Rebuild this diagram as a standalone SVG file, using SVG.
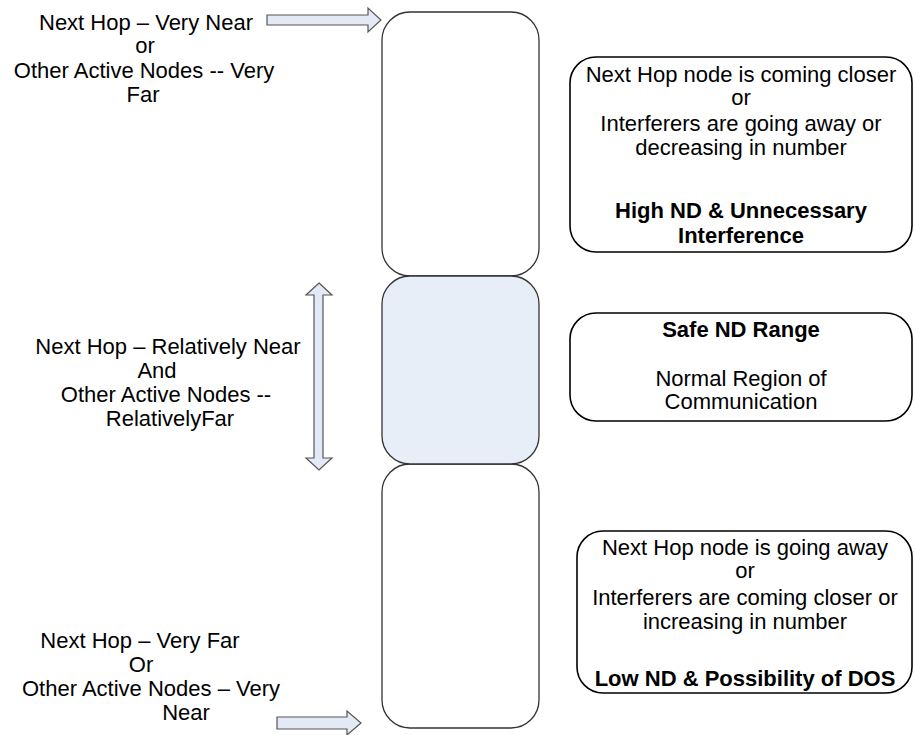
<svg xmlns="http://www.w3.org/2000/svg" width="915" height="735" viewBox="0 0 915 735">
  <defs>
    <style>
      text { font-family: "Liberation Sans", Arial, sans-serif; font-size: 22px; fill: #000; }
      .c { text-anchor: middle; }
      .b { font-weight: bold; }
      .col { fill: #fff; stroke: #333; stroke-width: 1.3; }
      .colmid { fill: #e8eef8; stroke: #333; stroke-width: 1.3; }
      .state { fill: #fff; stroke: #000; stroke-width: 1.6; }
      .arrow { fill: #e3eaf5; stroke: #555; stroke-width: 1.2; stroke-linejoin: miter; }
    </style>
  </defs>

  <rect width="915" height="735" fill="#fff"/>

  <!-- central column of ND levels -->
  <g id="level-high">
    <rect class="col" x="382" y="12" width="157" height="264" rx="28" ry="28"/>
  </g>
  <g id="level-low">
    <rect class="col" x="382" y="464" width="157" height="264" rx="28" ry="28"/>
  </g>
  <g id="level-safe">
    <rect class="colmid" x="382" y="276" width="157" height="188" rx="28" ry="28"/>
  </g>

  <!-- arrows pointing at the column -->
  <g id="connectors">
    <polygon class="arrow" points="267,15 368,15 368,8 381,20 368,32 368,25 267,25"/>
    <polygon class="arrow" points="319,283 332,295 323,295 323,458 332,458 319,470 306,458 314,458 314,295 306,295"/>
    <polygon class="arrow" points="277,717 347,717 347,711 361,723 347,735 347,729 277,729"/>
  </g>

  <!-- conditions on the left -->
  <g id="cond-near">
    <text class="c" x="146" y="30">Next Hop – Very Near</text>
    <text class="c" x="145" y="53">or</text>
    <text class="c" x="144" y="78">Other Active Nodes -- Very</text>
    <text class="c" x="143" y="102">Far</text>
  </g>
  <g id="cond-relative">
    <text class="c" x="168" y="354">Next Hop – Relatively Near</text>
    <text class="c" x="157" y="378">And</text>
    <text class="c" x="166" y="402">Other Active Nodes --</text>
    <text class="c" x="170" y="426">RelativelyFar</text>
  </g>
  <g id="cond-far">
    <text class="c" x="140" y="648">Next Hop – Very Far</text>
    <text class="c" x="141" y="672">Or</text>
    <text class="c" x="151" y="696">Other Active Nodes – Very</text>
    <text class="c" x="186" y="720">Near</text>
  </g>

  <!-- state descriptions on the right -->
  <g id="state-high">
    <rect class="state" x="570" y="57" width="342" height="195" rx="26" ry="26"/>
    <text class="c" x="741" y="82">Next Hop node is coming closer</text>
    <text class="c" x="741" y="105">or</text>
    <text class="c" x="741" y="131">Interferers are going away or</text>
    <text class="c" x="741" y="155">decreasing in number</text>
    <text class="c b" x="741" y="218">High ND &amp; Unnecessary</text>
    <text class="c b" x="741" y="243">Interference</text>
  </g>
  <g id="state-safe">
    <rect class="state" x="570" y="313" width="342" height="108" rx="26" ry="26"/>
    <text class="c b" x="741" y="337">Safe ND Range</text>
    <text class="c" x="741" y="386">Normal Region of</text>
    <text class="c" x="741" y="409">Communication</text>
  </g>
  <g id="state-low">
    <rect class="state" x="577" y="531" width="335" height="162" rx="26" ry="26"/>
    <text class="c" x="745" y="555">Next Hop node is going away</text>
    <text class="c" x="745" y="578">or</text>
    <text class="c" x="745" y="605">Interferers are coming closer or</text>
    <text class="c" x="745" y="629">increasing in number</text>
    <text class="c b" x="745" y="686">Low ND &amp; Possibility of DOS</text>
  </g>
</svg>
